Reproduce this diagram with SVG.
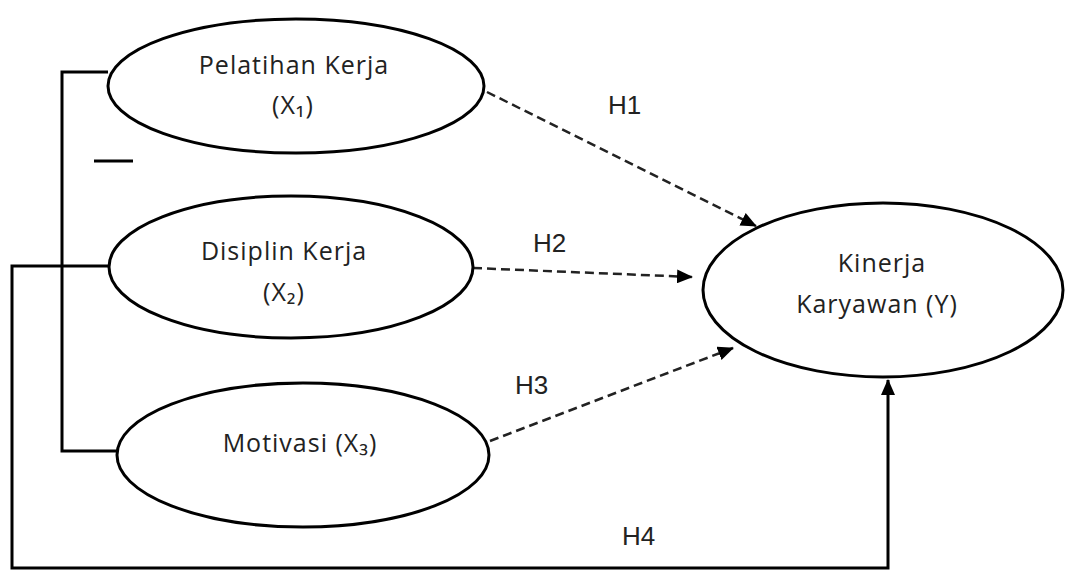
<svg xmlns="http://www.w3.org/2000/svg" width="1065" height="571" viewBox="0 0 1065 571">
  <style>
    .node ellipse { fill: #ffffff; stroke: #000000; stroke-width: 3; }
    .label { font-family: "Open Sans", "Liberation Sans", sans-serif; font-size: 25px; letter-spacing: 1px; fill: #222222; text-anchor: middle; }
    .hyp { font-family: "Liberation Sans", Arial, sans-serif; font-size: 26px; fill: #222222; }
    .solid { fill: none; stroke: #000000; stroke-width: 3; }
    .dash { fill: none; stroke: #222222; stroke-width: 2.5; stroke-dasharray: 9 5; }
  </style>
  <defs>
    <marker id="arrow" markerWidth="16" markerHeight="14" refX="15" refY="7" orient="auto" markerUnits="userSpaceOnUse">
      <path d="M0,0 L16,7 L0,14 Z" fill="#000000"/>
    </marker>
  </defs>
  <rect width="1065" height="571" fill="#ffffff"/>

  <!-- connectors -->
  <g id="connectors">
    <!-- bracket joining the three independent variables -->
    <polyline class="solid" points="108,72 62,72 62,451 118,451"/>
    <line class="solid" x1="94" y1="161" x2="133" y2="161"/>
    <!-- H4: combined path around the bottom into Y -->
    <polyline class="solid" points="110,266 12,266 12,568 888,568 888,380" marker-end="url(#arrow)"/>
    <!-- H1..H3 dashed paths -->
    <line class="dash" x1="487" y1="92" x2="756" y2="226" marker-end="url(#arrow)"/>
    <line class="dash" x1="473" y1="268" x2="692" y2="277" marker-end="url(#arrow)"/>
    <line class="dash" x1="490" y1="441" x2="733" y2="348" marker-end="url(#arrow)"/>
  </g>

  <g id="node-x1" class="node">
    <ellipse cx="296" cy="86" rx="188" ry="67"/>
    <text class="label" x="294" y="74">Pelatihan Kerja</text>
    <text class="label" x="293" y="114">(X₁)</text>
  </g>

  <g id="node-x2" class="node">
    <ellipse cx="291" cy="267" rx="182" ry="71"/>
    <text class="label" x="284" y="260">Disiplin Kerja</text>
    <text class="label" x="284" y="301">(X₂)</text>
  </g>

  <g id="node-x3" class="node">
    <ellipse cx="303" cy="455" rx="186" ry="72"/>
    <text class="label" x="300" y="452">Motivasi (X₃)</text>
  </g>

  <g id="node-y" class="node">
    <ellipse cx="883" cy="290" rx="180" ry="87"/>
    <text class="label" x="882" y="272">Kinerja</text>
    <text class="label" x="877" y="313">Karyawan (Y)</text>
  </g>

  <g id="labels">
    <text class="hyp" x="608" y="114">H1</text>
    <text class="hyp" x="533" y="252">H2</text>
    <text class="hyp" x="515" y="394">H3</text>
    <text class="hyp" x="622" y="545">H4</text>
  </g>
</svg>
